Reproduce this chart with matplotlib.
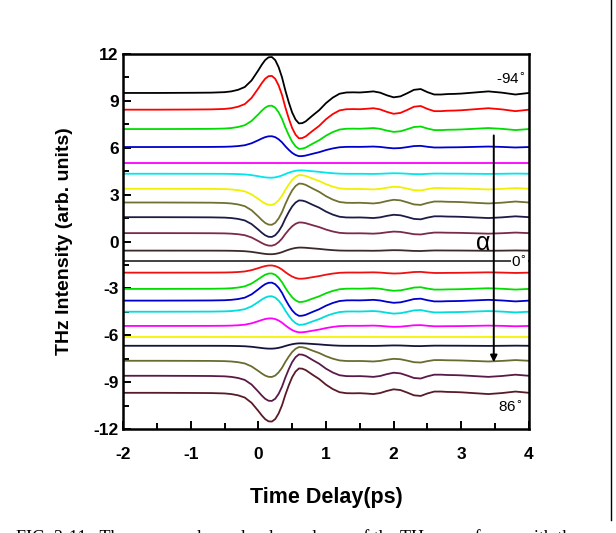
import numpy as np
import matplotlib
matplotlib.use("Agg")
import matplotlib.pyplot as plt
from matplotlib.ticker import MultipleLocator

# --- data ---
time_ps = [-2.0, -1.5, -1.0, -0.7, -0.5, -0.4, -0.3, -0.2, -0.1, 0.0, 0.05, 0.1,
           0.15, 0.2, 0.25, 0.3, 0.35, 0.4, 0.45, 0.5, 0.55, 0.6, 0.65, 0.7, 0.8,
           0.9, 1.0, 1.1, 1.2, 1.3, 1.4, 1.5, 1.6, 1.7, 1.8, 1.9, 2.0, 2.1, 2.2,
           2.3, 2.4, 2.5, 2.6, 2.7, 2.8, 2.9, 3.0, 3.2, 3.4, 3.6, 3.8, 4.0]
# reference waveform (top -94 deg trace, relative to its baseline)
ref_wave = [0.0, 0.0, 0.01, 0.02, 0.05, 0.1, 0.2, 0.38, 0.8, 1.45, 1.8, 2.1,
            2.28, 2.3, 2.1, 1.65, 1.0, 0.15, -0.6, -1.25, -1.7, -1.95, -1.93, -1.82, -1.45,
            -1.1, -0.65, -0.3, -0.05, 0.03, 0.04, 0.03, 0.06, 0.1, 0.02, -0.15, -0.28, -0.22, -0.02,
            0.2, 0.25, 0.05, -0.1, -0.1, -0.07, -0.06, -0.04, 0.03, 0.1, 0.02, -0.1, 0.0]
baselines = [9.51, 8.44, 7.2, 6.05, 5.03, 4.34, 3.38, 2.5, 1.56, 0.54, -0.58,
             -1.24, -1.99, -3.03, -3.78, -4.49, -5.4, -6.13, -6.67, -7.63, -8.59, -9.68]
amplitudes = [1.0, 0.94, 0.65, 0.3, 0.0, -0.11, -0.45, -0.62, -0.55, -0.35, -0.1,
              0.0, 0.2, 0.43, 0.5, 0.43, 0.21, 0.0, -0.08, -0.45, -0.7, -0.8]
colors = ['#000000', '#ff0000', '#00dd00', '#0000cc', '#ff00ff', '#00e5ee', '#f0f000',
          '#707030', '#1c1c48', '#7a2a4a', '#3a2a2a', '#333333', '#ee1111', '#00dd00',
          '#0000cc', '#00dddd', '#ff00ff', '#f5f500', '#14143c', '#6b6b30', '#5a1a48', '#5a1a28']
xticks = [-2, -1, 0, 1, 2, 3, 4]
yticks = [-12, -9, -6, -3, 0, 3, 6, 9, 12]

t = np.array(time_ps)
ref = np.array(ref_wave)

fig = plt.figure(figsize=(6.16, 5.33), dpi=100)
ax = fig.add_axes([0.1997, 0.195, 0.659, 0.7036])

for b, a, c in zip(baselines, amplitudes, colors):
    ax.plot(t, b + a * ref, color=c, lw=1.3, solid_joinstyle='round')

ax.set_xlim(-2, 4)
ax.set_ylim(-12, 12)
ax.set_xticks(xticks)
ax.set_yticks(yticks)
ax.xaxis.set_minor_locator(MultipleLocator(0.5))
ax.yaxis.set_minor_locator(MultipleLocator(1.5))
ax.tick_params(which='both', direction='in', width=1.4, top=False, right=False)
ax.tick_params(which='major', length=6)
ax.tick_params(which='minor', length=4)
for s in ax.spines.values():
    s.set_linewidth(1.8)

tickfont = dict(family='Liberation Sans', weight='bold', size=12.5)
ax.set_xticklabels([str(v) for v in xticks], **tickfont)
ax.set_yticklabels([str(v) for v in yticks], **tickfont)
ax.tick_params(axis='x', pad=13)
ax.tick_params(axis='y', pad=3)

ax.set_xlabel('Time Delay(ps)', family='Liberation Sans', weight='bold', size=15.5, labelpad=18)
ax.set_ylabel('THz Intensity (arb. units)', family='Liberation Sans', weight='bold', size=14, labelpad=15)

# annotations
ax.text(3.95, 10.37, '-94$^{\\circ}$', ha='right', va='center', fontsize=11, family='Liberation Sans')
ax.text(3.97, -1.3, '0$^{\\circ}$', ha='right', va='center', fontsize=11, family='Liberation Sans',
        bbox=dict(facecolor='white', edgecolor='none', pad=0.5))
ax.text(3.9, -10.6, '86$^{\\circ}$', ha='right', va='center', fontsize=11, family='Liberation Sans')
ax.annotate('', xy=(3.48, -7.9), xytext=(3.48, 6.97),
            arrowprops=dict(arrowstyle='-|>', color='black', lw=1.4, mutation_scale=10))
ax.text(3.43, -0.08, '\u03b1', ha='right', va='center', fontsize=18, family='Liberation Sans')

# page border and caption (clipped at the bottom edge, as in the source image)
fig.add_artist(plt.Line2D([0.992, 0.992], [0.024, 1.0], color='black', lw=1.0,
                          transform=fig.transFigure))
fig.text(0.026, -0.010, 'FIG. 3-11.  The measured angular dependence of the THz waveforms with the',
         ha='left', va='center', fontsize=13, family='Liberation Serif')

fig.savefig('out.png', dpi=100)
